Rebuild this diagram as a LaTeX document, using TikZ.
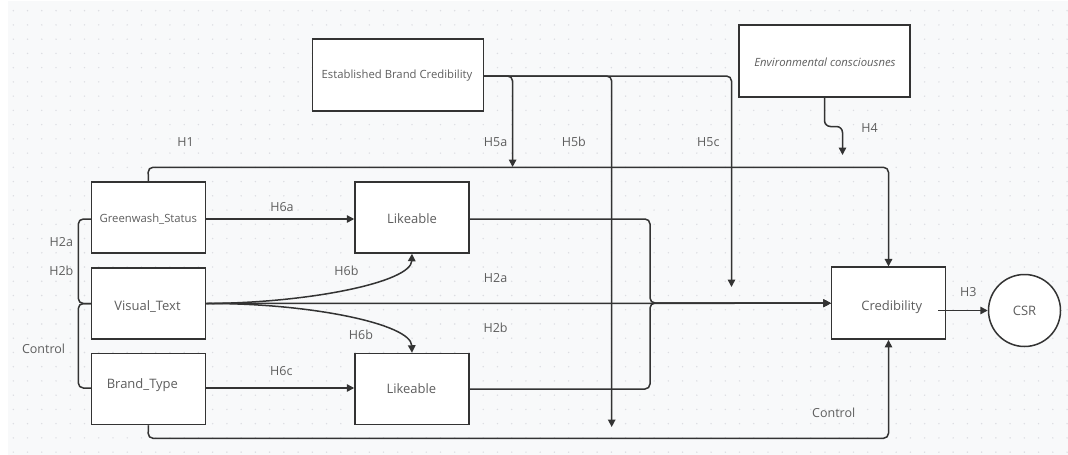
\documentclass[tikz,border=0pt]{standalone}
\usepackage{fontspec}
\setmainfont{Open Sans}
\usetikzlibrary{arrows.meta}
\definecolor{bgc}{HTML}{F8F9FA}
\definecolor{dotc}{HTML}{DCDDE2}
\definecolor{linec}{HTML}{333333}
\definecolor{txtc}{HTML}{5E5E5E}
\tikzset{
  box/.style={draw=linec, line width=1.5pt, fill=white, inner sep=0pt,
    minimum width=114pt, minimum height=71pt},
  widebox/.style={box, minimum width=171pt, minimum height=72pt},
  roundnode/.style={draw=linec, line width=1.5pt, fill=white, circle,
    minimum size=72pt, inner sep=0pt},
  txt/.style={text=txtc, font=\fontsize{13}{15}\selectfont, inner sep=0pt},
  smalltxt/.style={txt, font=\fontsize{11.3}{13}\selectfont},
  lbl/.style={txt, font=\fontsize{12.5}{15}\selectfont},
  conn/.style={draw=linec, line width=1.5pt, rounded corners=5pt,
    -{Triangle[length=7.5pt,width=7.5pt]}},
  plain/.style={draw=linec, line width=1.5pt, rounded corners=5pt},
}
\begin{document}
\begin{tikzpicture}[x=1pt, y=-1pt]
\useasboundingbox (0,0) rectangle (1068,455);
% canvas with dotted grid
\fill[white] (0,0) rectangle (1068,455);
\fill[bgc] (8,1) rectangle (1068,455);
\foreach \i in {0,...,74}
  \foreach \j in {0,...,31}
    \fill[dotc] (13.3+\i*14.24, 10.7+\j*14.24) circle [radius=0.8pt];

% boxes
\node[widebox] (ebc) at (397.8,75) {};
\node[widebox] (env) at (824.7,61) {};
\node[box] (gw) at (148.5,217.5) {};
\node[box] (lt) at (412,217.5) {};
\node[box] (vt) at (148.5,303.5) {};
\node[box] (bt) at (148.5,389) {};
\node[box] (lb) at (412,389) {};
\node[box, minimum height=72pt] (cred) at (888.7,303.2) {};
\node[roundnode] (csr) at (1024.5,310.5) {};

% box texts
\node[smalltxt] (ebcT) at (397,76) {Established Brand Credibility};
\node[smalltxt, font=\fontsize{11.3}{13}\selectfont\itshape] (envT) at (825,62) {Environmental consciousnes};
\node[smalltxt] (gwT) at (148.3,219.3) {Greenwash\_Status};
\node[txt] (ltT) at (412,219) {Likeable};
\node[txt] (vtT) at (147.5,307) {Visual\_Text};
\node[txt] (btT) at (142.4,385) {Brand\_Type};
\node[txt] (lbT) at (411.4,389) {Likeable};
\node[txt] (credT) at (891.7,306.7) {Credibility};
\node[txt] (csrT) at (1024.5,311) {CSR};

% bend points
\coordinate (h1a) at (148,167.3);
\coordinate (h1b) at (888.5,167.3);
\coordinate (ctla) at (148,438.3);
\coordinate (ctlb) at (888.5,438.3);
\coordinate (mgT) at (650,219);
\coordinate (mgB) at (650,389);
\coordinate (mgM) at (650,303);
\coordinate (brT) at (78.3,219);
\coordinate (brM) at (78.3,303.5);
\coordinate (brB) at (78.3,388);
\coordinate (h5a) at (512.6,167);
\coordinate (h5b) at (611.7,427);
\coordinate (h5c) at (731.5,287);
\coordinate (h4a) at (824.5,126.5);
\coordinate (h4b) at (842.5,126.5);
\coordinate (h4) at (842.5,155);
\coordinate (outA) at (938,310.5);

% H1: Greenwash_Status -> Credibility
\draw[conn] (gw.north) -- (h1a) -- (h1b) -- (cred.north -| h1b);
% Control: Brand_Type -> Credibility
\draw[conn] (bt.south) -- (ctla) -- (ctlb) -- (cred.south -| ctlb);
% H2a/H2b: Visual_Text -> Credibility
\draw[conn] (vt.east) -- (cred.west);
% Likeable -> Credibility
\draw[conn] (lt.east |- mgT) -- (mgT) -- (mgM) -- (cred.west);
\draw[conn] (lb.east |- mgB) -- (mgB) -- (mgM) -- (cred.west);
% H6a, H6c
\draw[conn] (gw.east |- 0,219) -- (lt.west |- 0,219);
\draw[conn] (bt.east |- 0,388) -- (lb.west |- 0,388);
% H6b: Visual_Text -> both Likeable
\draw[conn] (vt.east) .. controls (310,303) and (411,282) .. (lt.south);
\draw[conn] (vt.east) .. controls (310,303) and (411,324) .. (lb.south |- lb.north);
% left brace: controls into Visual_Text
\draw[plain] (gw.west |- brT) -- (brT) -- (brM) -- (vt.west);
\draw[plain] (bt.west |- brB) -- (brB) -- (brM) -- (vt.west);
% H5a-c: Established Brand Credibility moderations
\draw[conn] (ebc.east |- 0,76) -| (h5a);
\draw[conn] (ebc.east |- 0,76) -| (h5b);
\draw[conn] (ebc.east |- 0,76) -| (h5c);
% H4: Environmental consciousness
\draw[conn, rounded corners=6pt] (env.south -| h4a) -- (h4a) -- (h4b) -- (h4);
% H3: Credibility -> CSR
\draw[conn] (outA) -- (csr.west);

% path labels
\node[lbl] (lH1) at (185.6,142) {H1};
\node[lbl] (lH5a) at (495.6,142) {H5a};
\node[lbl] (lH5b) at (573.8,142) {H5b};
\node[lbl] (lH5c) at (708.4,142) {H5c};
\node[lbl] (lH4) at (869.5,128) {H4};
\node[lbl] (lH6a) at (282,207) {H6a};
\node[lbl] (lH6b1) at (346.4,271) {H6b};
\node[lbl] (lH6b2) at (361,335) {H6b};
\node[lbl] (lH6c) at (281.3,371) {H6c};
\node[lbl] (lH2a) at (495.6,278) {H2a};
\node[lbl] (lH2b) at (495.6,328) {H2b};
\node[lbl] (lH2aL) at (61.3,242) {H2a};
\node[lbl] (lH2bL) at (61.3,271) {H2b};
\node[lbl] (lCtlL) at (43.6,349) {Control};
\node[lbl] (lCtl) at (833.7,413) {Control};
\node[lbl] (lH3) at (968.3,292) {H3};
\end{tikzpicture}
\end{document}
